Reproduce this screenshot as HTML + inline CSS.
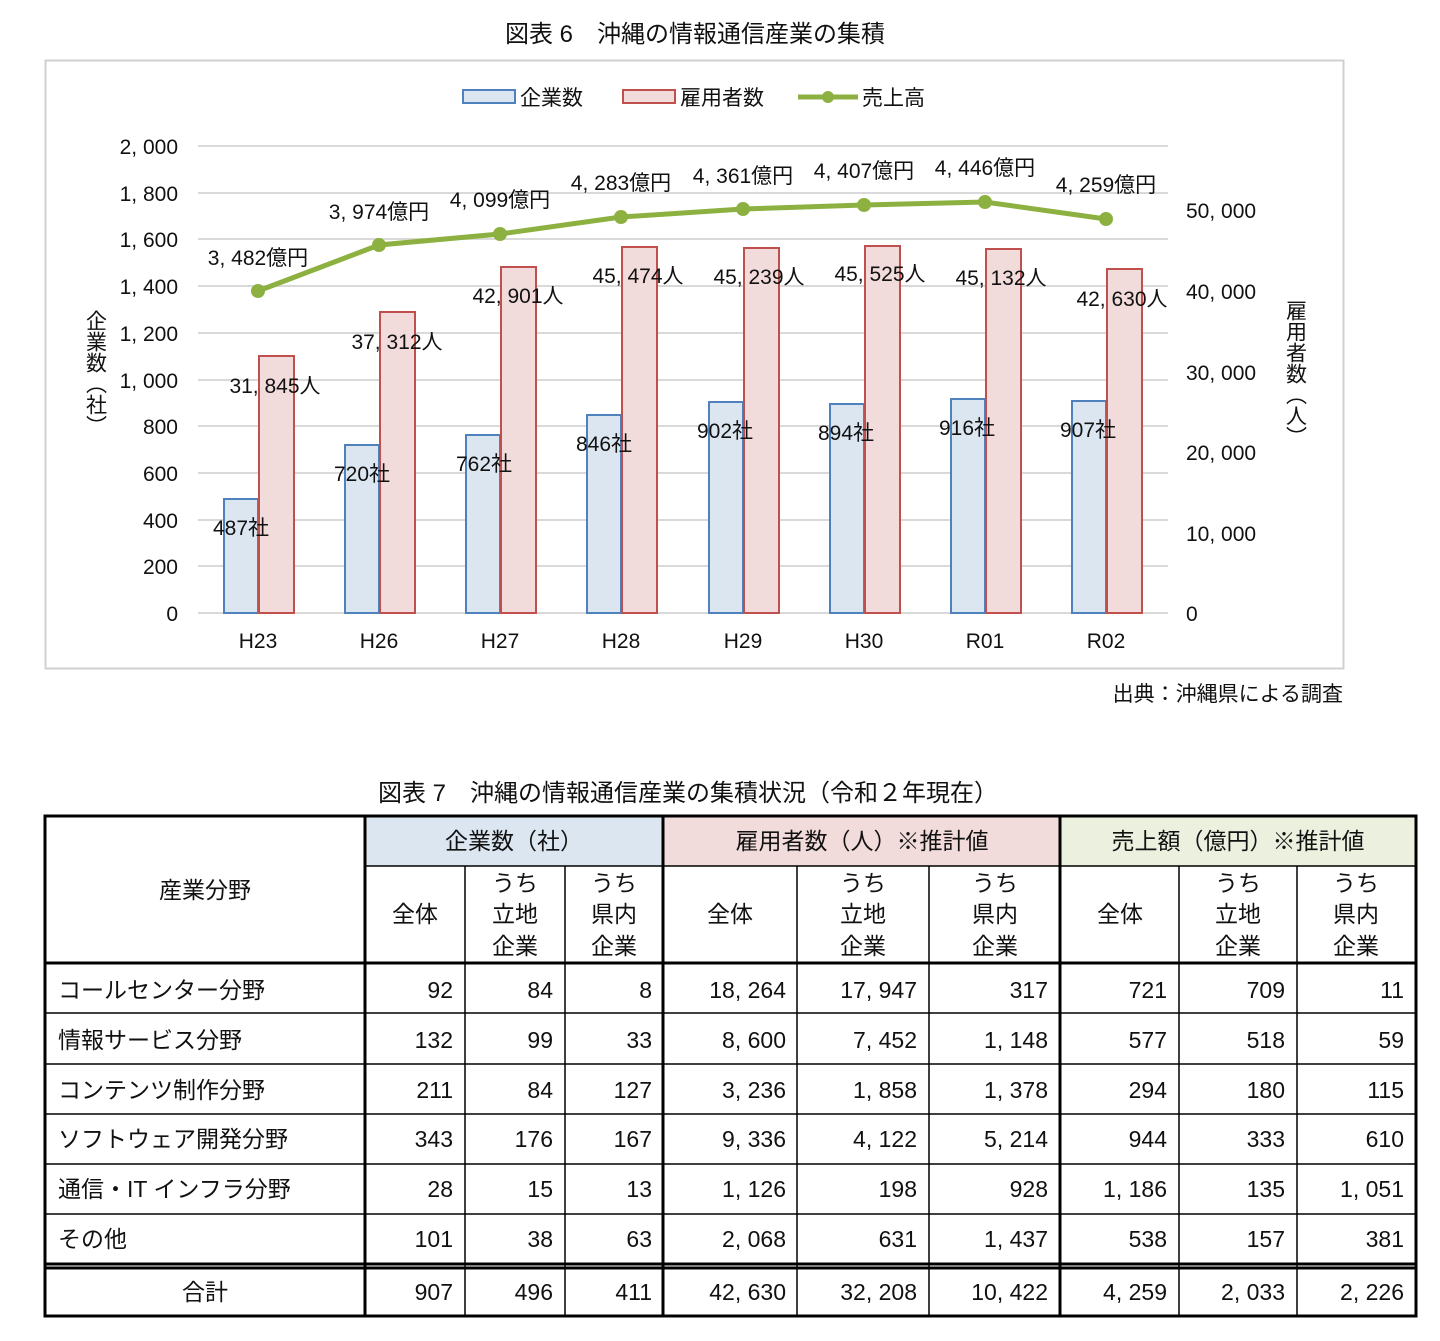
<!DOCTYPE html>
<html><head><meta charset="utf-8"><style>
html,body{margin:0;padding:0;background:#fff;}
svg{display:block;}
text{font-family:"Liberation Sans","Noto Sans CJK JP",sans-serif;fill:#111;}
.n{font-size:21px;}
.t{font-size:23px;}
</style></head><body>
<svg width="1440" height="1341" viewBox="0 0 1440 1341" xmlns="http://www.w3.org/2000/svg">
<text x="695" y="42" text-anchor="middle" style="font-size:24px">図表 6　沖縄の情報通信産業の集積</text>
<rect x="45.5" y="60.5" width="1298" height="608" fill="#fff" stroke="#d0d0d0" stroke-width="2"/>
<rect x="463" y="90" width="52" height="13" fill="#dce6f1" stroke="#4f81bd" stroke-width="2"/>
<text x="520" y="105" class="n">企業数</text>
<rect x="623" y="90" width="52" height="13" fill="#f2dcdb" stroke="#c0504d" stroke-width="2"/>
<text x="680" y="105" class="n">雇用者数</text>
<line x1="798" y1="97" x2="858" y2="97" stroke="#8db141" stroke-width="5"/>
<circle cx="828" cy="97" r="6" fill="#8db141"/>
<text x="862" y="105" class="n">売上高</text>
<g stroke="#d9d9d9" stroke-width="2">
<line x1="198" y1="146" x2="1168" y2="146"/><line x1="198" y1="193" x2="1168" y2="193"/>
<line x1="198" y1="239" x2="1168" y2="239"/><line x1="198" y1="286" x2="1168" y2="286"/>
<line x1="198" y1="333" x2="1168" y2="333"/><line x1="198" y1="380" x2="1168" y2="380"/>
<line x1="198" y1="426" x2="1168" y2="426"/><line x1="198" y1="473" x2="1168" y2="473"/>
<line x1="198" y1="520" x2="1168" y2="520"/><line x1="198" y1="566" x2="1168" y2="566"/>
<line x1="198" y1="613" x2="1168" y2="613"/>
</g>
<g class="n" text-anchor="end">
<text x="178" y="154" class="n">2, 000</text><text x="178" y="201" class="n">1, 800</text>
<text x="178" y="247" class="n">1, 600</text><text x="178" y="294" class="n">1, 400</text>
<text x="178" y="341" class="n">1, 200</text><text x="178" y="388" class="n">1, 000</text>
<text x="178" y="434" class="n">800</text><text x="178" y="481" class="n">600</text>
<text x="178" y="528" class="n">400</text><text x="178" y="574" class="n">200</text>
<text x="178" y="621" class="n">0</text>
</g>
<g>
<text x="1186" y="218" class="n">50, 000</text><text x="1186" y="299" class="n">40, 000</text>
<text x="1186" y="380" class="n">30, 000</text><text x="1186" y="460" class="n">20, 000</text>
<text x="1186" y="541" class="n">10, 000</text><text x="1186" y="621" class="n">0</text>
</g>
<text x="95" y="310" class="n" text-anchor="start" style="writing-mode:tb">企業数（社）</text>
<text x="1295" y="300" class="n" text-anchor="start" style="writing-mode:tb">雇用者数（人）</text>
<g stroke="#4f81bd" stroke-width="2" fill="#dce6f1">
<rect x="224" y="499" width="34" height="114"/>
<rect x="345" y="445" width="34" height="168"/>
<rect x="466" y="435" width="34" height="178"/>
<rect x="587" y="415" width="34" height="198"/>
<rect x="709" y="402" width="34" height="211"/>
<rect x="830" y="404" width="34" height="209"/>
<rect x="951" y="399" width="34" height="214"/>
<rect x="1072" y="401" width="34" height="212"/>
</g>
<g stroke="#c0504d" stroke-width="2" fill="#f2dcdb">
<rect x="259" y="356" width="35" height="257"/>
<rect x="380" y="312" width="35" height="301"/>
<rect x="501" y="267" width="35" height="346"/>
<rect x="622" y="247" width="35" height="366"/>
<rect x="744" y="248" width="35" height="365"/>
<rect x="865" y="246" width="35" height="367"/>
<rect x="986" y="249" width="35" height="364"/>
<rect x="1107" y="269" width="35" height="344"/>
</g>
<polyline points="258,291 379,245 500,234 621,217 743,209 864,205 985,202 1106,219" fill="none" stroke="#8db141" stroke-width="5"/>
<g fill="#8db141">
<circle cx="258" cy="291" r="7"/><circle cx="379" cy="245" r="7"/><circle cx="500" cy="234" r="7"/><circle cx="621" cy="217" r="7"/>
<circle cx="743" cy="209" r="7"/><circle cx="864" cy="205" r="7"/><circle cx="985" cy="202" r="7"/><circle cx="1106" cy="219" r="7"/>
</g>
<g text-anchor="middle">
<text x="258" y="265" class="n">3, 482億円</text><text x="379" y="219" class="n">3, 974億円</text>
<text x="500" y="207" class="n">4, 099億円</text><text x="621" y="190" class="n">4, 283億円</text>
<text x="743" y="183" class="n">4, 361億円</text><text x="864" y="178" class="n">4, 407億円</text>
<text x="985" y="175" class="n">4, 446億円</text><text x="1106" y="192" class="n">4, 259億円</text>
<text x="275" y="393" class="n">31, 845人</text><text x="397" y="349" class="n">37, 312人</text>
<text x="518" y="303" class="n">42, 901人</text><text x="638" y="283" class="n">45, 474人</text>
<text x="759" y="284" class="n">45, 239人</text><text x="880" y="281" class="n">45, 525人</text>
<text x="1001" y="285" class="n">45, 132人</text><text x="1122" y="306" class="n">42, 630人</text>
<text x="241" y="535" class="n">487社</text><text x="362" y="481" class="n">720社</text>
<text x="484" y="471" class="n">762社</text><text x="604" y="451" class="n">846社</text>
<text x="725" y="438" class="n">902社</text><text x="846" y="440" class="n">894社</text>
<text x="967" y="435" class="n">916社</text><text x="1088" y="437" class="n">907社</text>
<text x="258" y="648" class="n">H23</text><text x="379" y="648" class="n">H26</text>
<text x="500" y="648" class="n">H27</text><text x="621" y="648" class="n">H28</text>
<text x="743" y="648" class="n">H29</text><text x="864" y="648" class="n">H30</text>
<text x="985" y="648" class="n">R01</text><text x="1106" y="648" class="n">R02</text>
</g>
<text x="1343" y="701" text-anchor="end" class="n">出典：沖縄県による調査</text>

<text x="688" y="801" text-anchor="middle" style="font-size:24px">図表 7　沖縄の情報通信産業の集積状況（令和２年現在）</text>
<rect x="365" y="817" width="298" height="49" fill="#dce6f1"/>
<rect x="663" y="817" width="397" height="49" fill="#f2dcdb"/>
<rect x="1060" y="817" width="356" height="49" fill="#ebf1de"/>
<g stroke="#000" stroke-width="1.5">
<line x1="365" y1="866" x2="1416" y2="866"/>
<line x1="465" y1="866" x2="465" y2="1316"/><line x1="565" y1="866" x2="565" y2="1316"/>
<line x1="797" y1="866" x2="797" y2="1316"/><line x1="929" y1="866" x2="929" y2="1316"/>
<line x1="1179" y1="866" x2="1179" y2="1316"/><line x1="1297" y1="866" x2="1297" y2="1316"/>
<line x1="45" y1="1013" x2="1416" y2="1013"/><line x1="45" y1="1064" x2="1416" y2="1064"/>
<line x1="45" y1="1114" x2="1416" y2="1114"/><line x1="45" y1="1164" x2="1416" y2="1164"/>
<line x1="45" y1="1214" x2="1416" y2="1214"/>
</g>
<g stroke="#000" stroke-width="3" fill="none">
<rect x="45" y="816" width="1371" height="500"/>
<line x1="365" y1="816" x2="365" y2="1316"/><line x1="663" y1="816" x2="663" y2="1316"/>
<line x1="1060" y1="816" x2="1060" y2="1316"/>
<line x1="45" y1="963" x2="1416" y2="963"/>
<line x1="45" y1="1264" x2="1416" y2="1264"/><line x1="45" y1="1268" x2="1416" y2="1268"/>
</g>
<g text-anchor="middle" class="t">
<text x="205" y="898" class="t">産業分野</text>
<text x="514" y="849" class="t">企業数（社）</text>
<text x="862" y="849" class="t">雇用者数（人）※推計値</text>
<text x="1238" y="849" class="t">売上額（億円）※推計値</text>
<text x="415" y="922" class="t">全体</text>
<text x="515" y="891" class="t">うち</text><text x="515" y="922" class="t">立地</text><text x="515" y="954" class="t">企業</text>
<text x="614" y="891" class="t">うち</text><text x="614" y="922" class="t">県内</text><text x="614" y="954" class="t">企業</text>
<text x="730" y="922" class="t">全体</text>
<text x="863" y="891" class="t">うち</text><text x="863" y="922" class="t">立地</text><text x="863" y="954" class="t">企業</text>
<text x="995" y="891" class="t">うち</text><text x="995" y="922" class="t">県内</text><text x="995" y="954" class="t">企業</text>
<text x="1120" y="922" class="t">全体</text>
<text x="1238" y="891" class="t">うち</text><text x="1238" y="922" class="t">立地</text><text x="1238" y="954" class="t">企業</text>
<text x="1356" y="891" class="t">うち</text><text x="1356" y="922" class="t">県内</text><text x="1356" y="954" class="t">企業</text>
<text x="205" y="1300" class="t">合計</text>
</g>
<g class="t">
<text x="58" y="998" class="t">コールセンター分野</text>
<text x="58" y="1048" class="t">情報サービス分野</text>
<text x="58" y="1098" class="t">コンテンツ制作分野</text>
<text x="58" y="1147" class="t">ソフトウェア開発分野</text>
<text x="58" y="1197" class="t">通信・IT インフラ分野</text>
<text x="58" y="1247" class="t">その他</text>
</g>
<g text-anchor="end">
<text x="453" y="998" class="t">92</text><text x="553" y="998" class="t">84</text><text x="652" y="998" class="t">8</text><text x="786" y="998" class="t">18, 264</text><text x="917" y="998" class="t">17, 947</text><text x="1048" y="998" class="t">317</text><text x="1167" y="998" class="t">721</text><text x="1285" y="998" class="t">709</text><text x="1404" y="998" class="t">11</text>
<text x="453" y="1048" class="t">132</text><text x="553" y="1048" class="t">99</text><text x="652" y="1048" class="t">33</text><text x="786" y="1048" class="t">8, 600</text><text x="917" y="1048" class="t">7, 452</text><text x="1048" y="1048" class="t">1, 148</text><text x="1167" y="1048" class="t">577</text><text x="1285" y="1048" class="t">518</text><text x="1404" y="1048" class="t">59</text>
<text x="453" y="1098" class="t">211</text><text x="553" y="1098" class="t">84</text><text x="652" y="1098" class="t">127</text><text x="786" y="1098" class="t">3, 236</text><text x="917" y="1098" class="t">1, 858</text><text x="1048" y="1098" class="t">1, 378</text><text x="1167" y="1098" class="t">294</text><text x="1285" y="1098" class="t">180</text><text x="1404" y="1098" class="t">115</text>
<text x="453" y="1147" class="t">343</text><text x="553" y="1147" class="t">176</text><text x="652" y="1147" class="t">167</text><text x="786" y="1147" class="t">9, 336</text><text x="917" y="1147" class="t">4, 122</text><text x="1048" y="1147" class="t">5, 214</text><text x="1167" y="1147" class="t">944</text><text x="1285" y="1147" class="t">333</text><text x="1404" y="1147" class="t">610</text>
<text x="453" y="1197" class="t">28</text><text x="553" y="1197" class="t">15</text><text x="652" y="1197" class="t">13</text><text x="786" y="1197" class="t">1, 126</text><text x="917" y="1197" class="t">198</text><text x="1048" y="1197" class="t">928</text><text x="1167" y="1197" class="t">1, 186</text><text x="1285" y="1197" class="t">135</text><text x="1404" y="1197" class="t">1, 051</text>
<text x="453" y="1247" class="t">101</text><text x="553" y="1247" class="t">38</text><text x="652" y="1247" class="t">63</text><text x="786" y="1247" class="t">2, 068</text><text x="917" y="1247" class="t">631</text><text x="1048" y="1247" class="t">1, 437</text><text x="1167" y="1247" class="t">538</text><text x="1285" y="1247" class="t">157</text><text x="1404" y="1247" class="t">381</text>
<text x="453" y="1300" class="t">907</text><text x="553" y="1300" class="t">496</text><text x="652" y="1300" class="t">411</text><text x="786" y="1300" class="t">42, 630</text><text x="917" y="1300" class="t">32, 208</text><text x="1048" y="1300" class="t">10, 422</text><text x="1167" y="1300" class="t">4, 259</text><text x="1285" y="1300" class="t">2, 033</text><text x="1404" y="1300" class="t">2, 226</text>
</g>
</svg>
</body></html>
